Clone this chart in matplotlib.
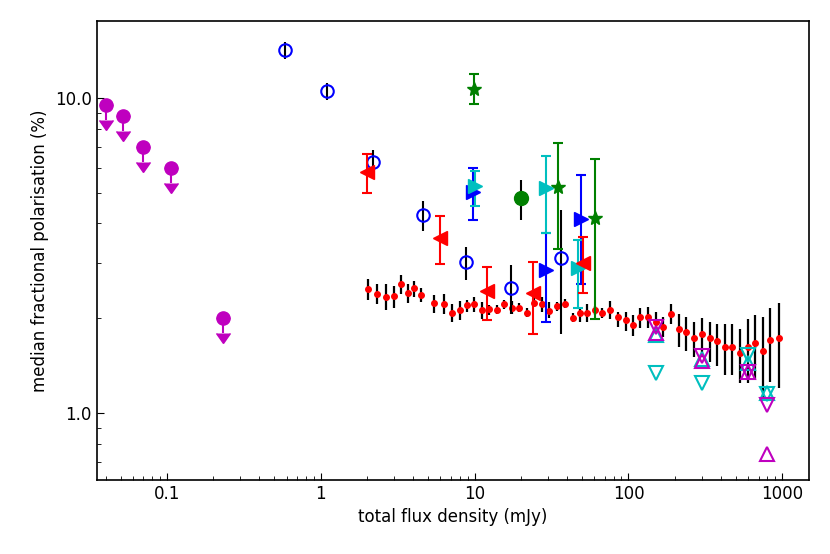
import numpy as np
import matplotlib
matplotlib.use('Agg')
import matplotlib.pyplot as plt
from matplotlib.ticker import FormatStrFormatter, FuncFormatter

# faint-end upper limits (magenta)
ul_flux = [0.040, 0.052, 0.070, 0.106, 0.230]
ul_pol = [9.5, 8.8, 7.0, 6.0, 2.0]
ul_len = [0.97, 0.94, 0.73, 0.62, 0.205]

# open blue circles
circ_flux = [0.59, 1.10, 2.19, 4.64, 8.78, 17.2, 36.2]
circ_pol = [14.2, 10.55, 6.28, 4.26, 3.01, 2.50, 3.11]
circ_lo = [13.33, 9.88, 5.71, 3.80, 2.65, 2.07, 1.79]
circ_hi = [15.02, 11.19, 6.85, 4.73, 3.37, 2.96, 4.42]

# red left triangles
red_flux = [1.99, 5.95, 11.96, 24.0, 50.7]
red_pol = [5.83, 3.59, 2.44, 2.41, 2.99]
red_lo = [5.01, 2.98, 1.97, 1.79, 2.40]
red_hi = [6.66, 4.23, 2.91, 3.03, 3.62]

# blue right triangles
blu_flux = [9.79, 29.3, 49.5]
blu_pol = [5.05, 2.85, 4.13]
blu_lo = [4.11, 1.95, 2.57]
blu_hi = [5.99, 3.74, 5.71]

# cyan right triangles
cya_flux = [10.0, 29.3, 47.1]
cya_pol = [5.27, 5.20, 2.89]
cya_lo = [4.56, 3.74, 2.15]
cya_hi = [5.88, 6.56, 3.55]

# green stars
star_flux = [9.90, 34.9, 60.4]
star_pol = [10.70, 5.24, 4.16]
star_lo = [9.57, 3.32, 1.99]
star_hi = [11.94, 7.20, 6.40]

# green filled circle
gc_flux = [20.0]
gc_pol = [4.81]
gc_lo = [4.11]
gc_hi = [5.50]

# binned medians (black bars, red dots)
bin_flux = [2.02, 2.33, 2.64, 2.98, 3.31, 3.67, 4.05, 4.50, 5.44, 6.35, 7.15, 8.03,
            8.95, 9.94, 11.15, 12.44, 13.90, 15.57, 17.39, 19.48, 21.77, 24.38, 27.35,
            30.51, 34.07, 38.41, 43.29, 48.29, 53.85, 60.42, 67.79, 75.60, 85.6, 96.0,
            107.1, 119.7, 134.1, 150.4, 168.8, 189.1, 212.2, 238.1, 266.7, 299.2, 337.3,
            376.1, 422.0, 473.4, 528.2, 595.3, 663.9, 748.2, 835.8, 946.2]
bin_pol = [2.476, 2.398, 2.346, 2.352, 2.573, 2.415, 2.499, 2.369, 2.235, 2.228, 2.082,
           2.133, 2.202, 2.223, 2.133, 2.139, 2.133, 2.218, 2.164, 2.164, 2.086, 2.244,
           2.218, 2.112, 2.186, 2.218, 2.012, 2.086, 2.086, 2.128, 2.086, 2.128, 2.018,
           1.978, 1.907, 2.022, 2.022, 1.949, 1.879, 2.066, 1.848, 1.807, 1.738, 1.781,
           1.730, 1.693, 1.627, 1.623, 1.557, 1.620, 1.668, 1.580, 1.709, 1.730]
bin_lo = [2.291, 2.218, 2.128, 2.154, 2.387, 2.235, 2.346, 2.251, 2.077, 2.062, 1.945,
          1.978, 2.101, 2.092, 1.993, 2.051, 2.062, 2.143, 2.066, 2.092, 2.026, 2.180,
          2.101, 2.012, 2.112, 2.154, 1.945, 1.945, 1.945, 2.051, 2.012, 1.993, 1.884,
          1.825, 1.760, 1.870, 1.870, 1.795, 1.743, 1.917, 1.620, 1.580, 1.512, 1.506,
          1.458, 1.413, 1.323, 1.323, 1.245, 1.245, 1.282, 1.129, 1.260, 1.200]
bin_hi = [2.670, 2.568, 2.568, 2.542, 2.748, 2.568, 2.636, 2.494, 2.374, 2.387, 2.218,
          2.273, 2.289, 2.346, 2.261, 2.207, 2.207, 2.289, 2.273, 2.235, 2.154, 2.318,
          2.346, 2.261, 2.261, 2.301, 2.077, 2.180, 2.218, 2.196, 2.164, 2.273, 2.101,
          2.101, 2.051, 2.154, 2.170, 2.092, 2.026, 2.218, 2.066, 2.026, 1.954, 2.003,
          1.954, 1.921, 1.921, 1.921, 1.848, 1.988, 2.051, 2.026, 2.154, 2.244]

# open triangles at the bright end
tri_flux = [150, 300, 600, 800]
mag_dn = [1.88, 1.52, 1.35, 1.06]
mag_up = [1.80, 1.46, 1.35, 0.74]
cya_dn = [1.34, 1.25, 1.53, 1.15]
cya_up = [1.77, 1.49, 1.44, 1.16]


def yerr(pol, lo, hi):
    pol, lo, hi = np.array(pol), np.array(lo), np.array(hi)
    return [pol - lo, hi - pol]


fig, ax = plt.subplots(figsize=(8.3, 5.54), dpi=100)
fig.subplots_adjust(left=0.1165, right=0.9747, bottom=0.1336, top=0.9626)

ax.errorbar(bin_flux, bin_pol, yerr=yerr(bin_pol, bin_lo, bin_hi), fmt='o', color='r',
            ms=4, ecolor='k', elinewidth=1.6, capsize=0, zorder=2)

ax.errorbar(ul_flux, ul_pol, yerr=ul_len, uplims=True, fmt='o', color='m', ms=9.5,
            elinewidth=1.5, capsize=5, zorder=3)

ax.errorbar(circ_flux, circ_pol, yerr=yerr(circ_pol, circ_lo, circ_hi), fmt='o', mfc='none',
            mec='b', mew=1.5, ms=9, ecolor='k', elinewidth=1.5, capsize=0, zorder=3)

kw = dict(elinewidth=1.5, capsize=3.5, capthick=1.5, ms=10, zorder=4)
ax.errorbar(blu_flux, blu_pol, yerr=yerr(blu_pol, blu_lo, blu_hi), fmt='>', color='b', **kw)
ax.errorbar(cya_flux, cya_pol, yerr=yerr(cya_pol, cya_lo, cya_hi), fmt='>', color='c', **kw)
ax.errorbar(red_flux, red_pol, yerr=yerr(red_pol, red_lo, red_hi), fmt='<', color='r', **kw)
ax.errorbar(star_flux, star_pol, yerr=yerr(star_pol, star_lo, star_hi), fmt='*', color='g', **kw)
ax.errorbar(gc_flux, gc_pol, yerr=yerr(gc_pol, gc_lo, gc_hi), fmt='o', color='g', ms=10,
            ecolor='k', elinewidth=1.5, capsize=0, zorder=4)

tkw = dict(ls='none', mfc='none', ms=10, mew=1.5, zorder=5)
ax.plot(tri_flux, cya_dn, marker='v', mec='c', **tkw)
ax.plot(tri_flux, cya_up, marker='^', mec='c', **tkw)
ax.plot(tri_flux, mag_dn, marker='v', mec='m', **tkw)
ax.plot(tri_flux, mag_up, marker='^', mec='m', **tkw)

ax.set_xscale('log')
ax.set_yscale('log')
ax.set_xlim(0.035, 1490)
ax.set_ylim(0.614, 17.6)
ax.xaxis.set_major_formatter(FuncFormatter(lambda v, p: '%g' % v))
ax.yaxis.set_major_formatter(FormatStrFormatter('%.1f'))
ax.tick_params(which='both', direction='in', labelsize=12)
ax.tick_params(which='major', length=5)
ax.tick_params(which='minor', length=3)
for s in ax.spines.values():
    s.set_linewidth(1.2)

ax.set_xlabel('total flux density (mJy)', fontsize=12)
ax.set_ylabel('median fractional polarisation (%)', fontsize=12)

fig.savefig('out.png', dpi=100)
